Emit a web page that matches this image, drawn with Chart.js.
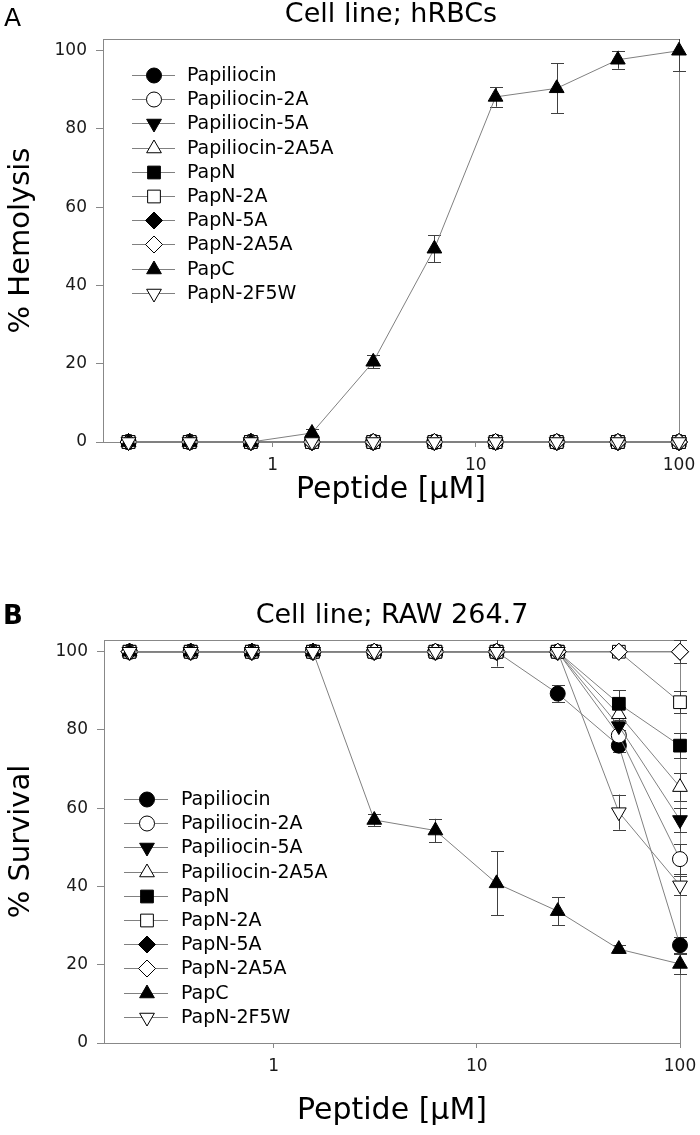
<!DOCTYPE html>
<html>
<head>
<meta charset="utf-8">
<script src="https://cdn.jsdelivr.net/npm/chart.js@4.4.1/dist/chart.umd.min.js"></script>
<style>
  html, body { margin: 0; padding: 0; background: #fff; }
  #wrap { position: relative; width: 700px; height: 1135px; }
  canvas { position: absolute; left: 0; }
  #chartA { top: 0; }
  #chartB { top: 560px; }
</style>
</head>
<body>
<div id="wrap">
  <canvas id="chartA" width="700" height="560"></canvas>
  <canvas id="chartB" width="700" height="575"></canvas>
</div>
<script>
// peptide concentrations (uM), two-fold dilutions
const doses = [0.195, 0.39, 0.78, 1.56, 3.125, 6.25, 12.5, 25, 50, 100];
const xTicks = [1, 10, 100];
const yTicks = [0, 20, 40, 60, 80, 100];
const seriesNames = ['Papiliocin', 'Papiliocin-2A', 'Papiliocin-5A', 'Papiliocin-2A5A', 'PapN',
  'PapN-2A', 'PapN-5A', 'PapN-2A5A', 'PapC', 'PapN-2F5W'];

// A: % hemolysis, hRBCs
const hemoPapiliocin = [0, 0, 0, 0, 0, 0, 0, 0, 0, 0];
const hemoPap2A      = [0, 0, 0, 0, 0, 0, 0, 0, 0, 0];
const hemoPap5A      = [0, 0, 0, 0, 0, 0, 0, 0, 0, 0];
const hemoPap2A5A    = [0, 0, 0, 0, 0, 0, 0, 0, 0, 0];
const hemoPapN       = [0, 0, 0, 0, 0, 0, 0, 0, 0, 0];
const hemoPapN2A     = [0, 0, 0, 0, 0, 0, 0, 0, 0, 0];
const hemoPapN5A     = [0, 0, 0, 0, 0, 0, 0, 0, 0, 0];
const hemoPapN2A5A   = [0, 0, 0, 0, 0, 0, 0, 0, 0, 0];
const hemoPapC       = [0, 0, 0, 2.3, 20.5, 49.4, 88.2, 90.4, 97.7, 100];
const hemoPapN2F5W   = [0, 0, 0, 0, 0, 0, 0, 0, 0, 0];
const hemoPapCErr    = [0, 0, 0, 1.0, 1.7, 3.5, 2.5, 6.4, 2.3, 5.2];

// B: % survival, RAW 264.7
const survPapiliocin = [100, 100, 100, 100, 100, 100, 100, 89.3, 76.0, 25.0];
const survPap2A      = [100, 100, 100, 100, 100, 100, 100, 100, 78.6, 47.0];
const survPap5A      = [100, 100, 100, 100, 100, 100, 100, 100, 81.0, 57.0];
const survPap2A5A    = [100, 100, 100, 100, 100, 100, 100, 100, 84.0, 65.4];
const survPapN       = [100, 100, 100, 100, 100, 100, 100, 100, 86.7, 76.0];
const survPapN2A     = [100, 100, 100, 100, 100, 100, 100, 100, 100, 87.1];
const survPapN5A     = [100, 100, 100, 100, 100, 100, 100, 100, 100, 100];
const survPapN2A5A   = [100, 100, 100, 100, 100, 100, 100, 100, 100, 100];
const survPapC       = [100, 100, 100, 100, 57.0, 54.3, 40.8, 33.7, 24.0, 20.2];
const survPapN2F5W   = [100, 100, 100, 100, 100, 100, 100, 100, 59.0, 40.3];

const survPapiliocinErr = [0, 0, 0, 0, 0, 0, 0, 2.1, 1.5, 2.0];
const survPap2AErr      = [0, 0, 0, 0, 0, 0, 0, 0, 1.5, 3.8];
const survPap5AErr      = [0, 0, 0, 0, 0, 0, 0, 0, 1.5, 3.0];
const survPap2A5AErr    = [0, 0, 0, 0, 0, 0, 0, 0, 2.0, 3.5];
const survPapNErr       = [0, 0, 0, 0, 0, 0, 0, 0, 3.4, 3.2];
const survPapN2AErr     = [0, 0, 0, 0, 0, 0, 0, 0, 0, 2.8];
const survPapN2A5AErr   = [0, 0, 0, 0, 0, 0, 0, 0, 0, 3.0];
const survPapCErr       = [0, 0, 0, 0, 1.5, 3.0, 8.2, 3.6, 1.0, 2.5];
const survPapN2F5WErr   = [0, 0, 0, 0, 0, 0, 3.8, 0, 4.5, 2.5];

const FONT = 'DejaVu Sans';
const LINE = '#808080';

// marker look per series: [pointStyle, rotation, filled, radius]
const markers = [
  ['circle', 0, true, 7.5], ['circle', 0, false, 7.5],
  ['triangle', 180, true, 8.5], ['triangle', 0, false, 8.5],
  ['rect', 0, true, 9], ['rect', 0, false, 9],
  ['rectRot', 0, true, 8.5], ['rectRot', 0, false, 8.5],
  ['triangle', 0, true, 8.5], ['triangle', 180, false, 8.5]
];

const frame = {
  id: 'frame',
  beforeDatasetsDraw(chart) {
    const { ctx, chartArea: a } = chart;
    ctx.save();
    ctx.strokeStyle = '#888';
    ctx.lineWidth = 1;
    ctx.strokeRect(Math.round(a.left) + 0.5, Math.round(a.top) + 0.5,
      Math.round(a.right - a.left), Math.round(a.bottom - a.top));
    ctx.restore();
  }
};

const errorBars = {
  id: 'errorBars',
  beforeDatasetsDraw(chart) {
    const { ctx, scales: { x, y } } = chart;
    ctx.save();
    ctx.strokeStyle = '#404040';
    ctx.lineWidth = 1;
    chart.data.datasets.forEach(ds => {
      if (!ds.errors) return;
      ds.data.forEach((pt, i) => {
        const e = ds.errors[i];
        if (!e) return;
        const px = Math.round(x.getPixelForValue(pt.x)) + 0.5;
        const hiClipped = pt.y + e > y.max;
        const top = y.getPixelForValue(Math.min(pt.y + e, y.max));
        const bot = y.getPixelForValue(pt.y - e);
        ctx.beginPath();
        ctx.moveTo(px, top);
        ctx.lineTo(px, bot);
        if (!hiClipped) { ctx.moveTo(px - 6.5, Math.round(top) + 0.5); ctx.lineTo(px + 6.5, Math.round(top) + 0.5); }
        ctx.moveTo(px - 6.5, Math.round(bot) + 0.5);
        ctx.lineTo(px + 6.5, Math.round(bot) + 0.5);
        ctx.stroke();
      });
    });
    ctx.restore();
  }
};

const sideLegend = {
  id: 'sideLegend',
  afterDatasetsDraw(chart, args, o) {
    const ctx = chart.ctx;
    ctx.save();
    chart.data.datasets.forEach((ds, i) => {
      const y = Math.round(o.top + i * o.step);
      ctx.strokeStyle = LINE;
      ctx.lineWidth = 1;
      ctx.beginPath();
      ctx.moveTo(o.x1, y + 0.5);
      ctx.lineTo(o.x2, y + 0.5);
      ctx.stroke();
      ctx.fillStyle = ds.pointBackgroundColor;
      ctx.strokeStyle = ds.pointBorderColor;
      Chart.helpers.drawPoint(ctx, {
        pointStyle: ds.pointStyle, rotation: ds.pointRotation,
        radius: ds.pointRadius, borderWidth: 1
      }, o.mx, y + 0.5);
      ctx.fillStyle = '#000';
      ctx.font = '19px "' + FONT + '"';
      ctx.textAlign = 'left';
      ctx.textBaseline = 'middle';
      ctx.fillText(ds.label, o.tx, y + 1);
    });
    ctx.restore();
  }
};

const panelText = {
  id: 'panelText',
  afterDraw(chart, args, o) {
    const { ctx, chartArea: a } = chart;
    ctx.save();
    ctx.fillStyle = '#000';
    ctx.textBaseline = 'middle';
    ctx.textAlign = 'center';
    ctx.font = '27px "' + FONT + '"';
    ctx.fillText(o.title, (a.left + a.right) / 2, o.titleY);
    ctx.textAlign = 'left';
    ctx.font = o.letterFont;
    ctx.fillText(o.letter, o.letterX, o.letterY);
    ctx.restore();
  }
};

function makePanel(id, p) {
  const datasets = p.values.map((vals, i) => {
    const [style, rot, filled, r] = markers[i];
    return {
      label: seriesNames[i],
      data: doses.map((d, j) => ({ x: d, y: vals[j] })),
      errors: p.errors[i],
      borderColor: LINE,
      borderWidth: 1,
      tension: 0,
      pointStyle: style,
      pointRotation: rot,
      pointRadius: r,
      pointHoverRadius: r,
      pointBorderWidth: 1,
      pointBorderColor: '#000',
      pointBackgroundColor: filled ? '#000' : '#fff',
      clip: false,
      order: -i
    };
  });

  return new Chart(document.getElementById(id), {
    type: 'line',
    data: { datasets },
    options: {
      responsive: false,
      animation: false,
      events: [],
      layout: { padding: p.padding },
      scales: {
        x: {
          type: 'logarithmic', min: 0.146, max: 100,
          afterBuildTicks: s => { s.ticks = xTicks.map(v => ({ value: v })); },
          afterFit: s => { s.height = p.xHeight; s.paddingLeft = 0; s.paddingRight = 0; },
          grid: { drawOnChartArea: false, drawTicks: true, tickLength: 5, color: '#888' },
          border: { display: true, color: '#888' },
          ticks: {
            callback: v => String(v), autoSkip: false, maxRotation: 0,
            font: { family: FONT, size: 17 }, color: '#1a1a1a', padding: 8
          },
          title: {
            display: true, text: 'Peptide [µM]', color: '#000',
            font: { family: FONT, size: 30 }, padding: { top: 0, bottom: p.xTitlePad }
          }
        },
        y: {
          type: 'linear', min: 0, max: 103,
          afterBuildTicks: s => { s.ticks = yTicks.map(v => ({ value: v })); },
          afterFit: s => { s.width = p.yWidth; s.paddingTop = 0; s.paddingBottom = 0; },
          grid: { drawOnChartArea: false, drawTicks: true, tickLength: 7, color: '#888' },
          border: { display: true, color: '#888' },
          ticks: { font: { family: FONT, size: 17 }, color: '#1a1a1a', padding: 9 },
          title: {
            display: true, text: p.yTitle, color: '#000',
            font: { family: FONT, size: 29 }, padding: { top: 4, bottom: 0 }
          }
        }
      },
      plugins: {
        legend: { display: false },
        tooltip: { enabled: false },
        sideLegend: p.legend,
        panelText: p.text
      }
    },
    plugins: [frame, errorBars, sideLegend, panelText]
  });
}

makePanel('chartA', {
  values: [hemoPapiliocin, hemoPap2A, hemoPap5A, hemoPap2A5A, hemoPapN,
    hemoPapN2A, hemoPapN5A, hemoPapN2A5A, hemoPapC, hemoPapN2F5W],
  errors: [null, null, null, null, null, null, null, null, hemoPapCErr, null],
  yTitle: '% Hemolysis',
  padding: { top: 39, right: 21, left: 0, bottom: 0 },
  yWidth: 103, xHeight: 118, xTitlePad: 52,
  legend: { top: 75, step: 24.2, x1: 132, x2: 175, mx: 154, tx: 187 },
  text: { title: 'Cell line; hRBCs', titleY: 15, letter: 'A', letterX: 4,
    letterY: 19, letterFont: '25px "' + FONT + '"' }
});

makePanel('chartB', {
  values: [survPapiliocin, survPap2A, survPap5A, survPap2A5A, survPapN,
    survPapN2A, survPapN5A, survPapN2A5A, survPapC, survPapN2F5W],
  errors: [survPapiliocinErr, survPap2AErr, survPap5AErr, survPap2A5AErr, survPapNErr,
    survPapN2AErr, null, survPapN2A5AErr, survPapCErr, survPapN2F5WErr],
  yTitle: '% Survival',
  padding: { top: 80, right: 20, left: 0, bottom: 0 },
  yWidth: 104, xHeight: 92, xTitlePad: 6,
  legend: { top: 239, step: 24.2, x1: 124, x2: 168, mx: 147, tx: 181 },
  text: { title: 'Cell line; RAW 264.7', titleY: 56, letter: 'B', letterX: 3,
    letterY: 57, letterFont: 'bold 26px "' + FONT + '"' }
});
</script>
</body>
</html>
